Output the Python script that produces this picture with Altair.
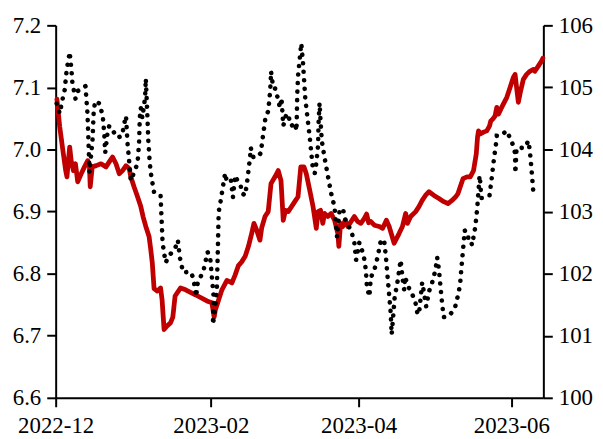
import altair as alt
import pandas as pd

BASE = "2022-12-01"

# USD/CNY (left axis): (days since 2022-12-01, rate)
usdcny = [
    (0.5, 7.081), (1.6, 7.037), (2.9, 6.998), (4.0, 6.966), (4.5, 6.956), (5.6, 7.004),
    (6.2, 6.982), (7.1, 6.966), (7.9, 6.977), (8.8, 6.948), (10.2, 6.961), (11.5, 6.972),
    (12.8, 6.982), (13.5, 6.972), (13.8, 6.940), (14.6, 6.972), (16.2, 6.974), (18.1, 6.977),
    (20.1, 6.972), (21.4, 6.980), (22.7, 6.988), (24.1, 6.977), (25.4, 6.961), (26.7, 6.966),
    (28.1, 6.974), (29.4, 6.969), (30.0, 6.956), (31.3, 6.940), (32.7, 6.924), (34.0, 6.908),
    (34.9, 6.892), (36.0, 6.876), (37.3, 6.860), (38.0, 6.838), (38.6, 6.817), (39.3, 6.776),
    (40.6, 6.772), (41.9, 6.777), (42.5, 6.758), (43.3, 6.710), (44.6, 6.716), (45.9, 6.721),
    (46.8, 6.730), (47.7, 6.764), (49.9, 6.777), (51.9, 6.774), (55.8, 6.766), (60.4, 6.756),
    (62.4, 6.753), (63.3, 6.730), (63.8, 6.742), (64.4, 6.749), (65.1, 6.758), (66.4, 6.774),
    (68.4, 6.789), (70.4, 6.785), (71.7, 6.798), (73.0, 6.813), (74.3, 6.819), (75.7, 6.828),
    (77.0, 6.844), (78.3, 6.865), (79.2, 6.881), (80.3, 6.870), (81.6, 6.854), (82.3, 6.874),
    (83.6, 6.892), (84.9, 6.900), (86.0, 6.945), (87.6, 6.956), (88.9, 6.966), (90.0, 6.950),
    (90.9, 6.886), (91.8, 6.902), (92.9, 6.900), (94.2, 6.908), (95.5, 6.916), (96.8, 6.924),
    (97.9, 6.972), (99.2, 6.972), (100.1, 6.961), (101.5, 6.934), (102.8, 6.908), (104.1, 6.873),
    (104.8, 6.900), (105.8, 6.902), (106.7, 6.881), (107.4, 6.897), (108.7, 6.892), (110.0, 6.897),
    (111.4, 6.886), (112.7, 6.865), (113.1, 6.844), (113.8, 6.881), (114.7, 6.876), (115.6, 6.886),
    (116.7, 6.876), (118.0, 6.884), (119.3, 6.892), (120.6, 6.884), (121.9, 6.881), (123.3, 6.889),
    (124.2, 6.896), (125.0, 6.882), (125.9, 6.884), (127.3, 6.878), (129.2, 6.876), (130.6, 6.873),
    (132.1, 6.886), (133.2, 6.876), (135.2, 6.849), (137.2, 6.865), (138.5, 6.876), (139.8, 6.897),
    (140.5, 6.881), (141.8, 6.892), (143.8, 6.900), (145.1, 6.908), (146.4, 6.918), (147.7, 6.926),
    (149.1, 6.932), (151.1, 6.926), (153.1, 6.921), (155.0, 6.916), (156.7, 6.913), (158.3, 6.918),
    (159.6, 6.923), (160.7, 6.929), (161.6, 6.940), (162.7, 6.953), (164.3, 6.956), (165.6, 6.956),
    (166.9, 6.966), (168.0, 6.993), (168.5, 7.020), (168.9, 7.030), (169.6, 7.025), (170.9, 7.028),
    (172.2, 7.030), (173.3, 7.038), (173.8, 7.046), (174.6, 7.049), (175.5, 7.054), (176.2, 7.068),
    (176.9, 7.057), (177.8, 7.065), (178.8, 7.073), (180.2, 7.084), (181.5, 7.100), (182.8, 7.116),
    (183.5, 7.121), (184.1, 7.100), (184.8, 7.076), (185.7, 7.094), (186.8, 7.113), (188.1, 7.121),
    (189.4, 7.126), (190.8, 7.129), (191.4, 7.126), (192.7, 7.134), (194.0, 7.142), (194.6, 7.147),
]

# Dollar index (right axis): (days since 2022-12-01, index)
dxy = [
    (0.4, 104.74), (1.6, 104.58), (2.8, 104.82), (3.6, 104.96), (4.4, 105.28), (5.6, 105.57),
    (6.3, 105.28), (6.7, 105.06), (7.5, 104.91), (7.9, 104.82), (8.7, 104.94), (11.9, 105.02),
    (12.7, 104.58), (13.1, 104.14), (13.5, 103.63), (14.7, 104.14), (15.2, 104.62), (15.8, 104.78),
    (17.5, 104.74), (18.8, 104.54), (19.4, 104.26), (19.8, 103.95), (20.8, 104.30), (21.4, 104.38),
    (22.2, 104.34), (24.7, 104.19), (26.5, 104.22), (27.8, 104.50), (28.1, 104.54), (28.7, 104.10),
    (29.4, 103.79), (30.0, 103.50), (31.3, 103.63), (32.7, 103.78), (33.3, 104.10), (33.6, 104.51),
    (34.0, 104.67), (34.6, 104.51), (35.7, 104.83), (36.0, 105.14), (36.6, 104.58), (37.0, 104.14),
    (37.6, 103.78), (38.0, 103.62), (39.3, 103.31), (40.6, 103.28), (41.9, 103.26), (42.2, 102.98),
    (42.7, 102.50), (43.9, 102.18), (45.6, 102.30), (47.9, 102.43), (48.8, 102.54), (49.6, 102.26),
    (50.9, 102.02), (53.8, 102.03), (54.9, 101.94), (56.2, 101.63), (56.5, 101.82), (57.8, 101.94),
    (59.1, 102.06), (60.7, 102.35), (61.8, 102.22), (62.4, 101.94), (63.1, 101.63), (62.8, 101.18),
    (63.8, 101.47), (64.4, 101.79), (64.8, 102.43), (65.1, 102.99), (65.8, 103.15), (66.4, 103.30),
    (67.7, 103.62), (68.4, 103.47), (70.0, 103.50), (70.8, 103.23), (71.7, 103.58), (73.0, 103.46),
    (73.9, 103.42), (74.3, 103.30), (75.7, 103.26), (76.7, 103.55), (77.7, 103.90), (77.9, 104.03),
    (79.0, 103.87), (81.0, 103.90), (81.9, 103.94), (82.7, 104.19), (83.8, 104.51), (84.9, 104.62),
    (85.6, 104.91), (85.9, 105.10), (86.0, 105.26), (86.9, 104.99), (87.8, 104.98), (89.6, 104.67),
    (90.2, 104.83), (90.9, 104.38), (92.2, 104.58), (92.9, 104.54), (94.2, 104.38), (95.5, 104.43),
    (96.2, 104.30), (96.5, 104.90), (96.8, 105.18), (98.1, 105.71), (98.8, 105.39), (99.7, 104.82),
    (101.5, 104.19), (102.8, 103.66), (103.5, 103.62), (104.1, 103.78), (104.8, 104.06), (105.0, 104.43),
    (105.4, 104.75), (105.8, 104.46), (106.3, 104.14), (107.4, 103.87), (108.7, 103.58), (110.0, 103.30),
    (111.4, 103.07), (112.0, 102.75), (112.4, 102.59), (113.4, 103.02), (114.7, 103.05), (116.0, 102.83),
    (118.0, 102.70), (119.3, 102.50), (120.0, 102.22), (121.3, 102.50), (123.0, 102.30), (123.9, 102.06),
    (124.3, 101.79), (125.3, 101.63), (125.9, 101.94), (127.3, 102.06), (128.6, 102.27), (129.9, 102.54),
    (131.2, 102.54), (131.9, 102.27), (132.5, 101.98), (133.2, 101.66), (133.8, 101.38), (134.2, 101.02),
    (134.8, 101.31), (135.4, 101.62), (136.5, 101.86), (137.8, 102.22), (138.5, 101.94), (139.2, 101.74),
    (139.6, 101.95), (140.5, 101.82), (141.8, 101.71), (143.5, 101.58), (144.4, 101.38), (145.1, 101.34),
    (145.8, 101.62), (146.4, 101.86), (147.1, 101.70), (148.0, 101.47), (149.1, 101.71), (150.4, 101.86),
    (151.7, 102.06), (152.4, 102.26), (153.1, 102.06), (153.7, 101.79), (154.4, 101.50), (155.0, 101.30),
    (156.7, 101.31), (158.6, 101.39), (159.6, 101.47), (161.0, 101.70), (161.6, 101.86), (162.0, 102.06),
    (162.7, 102.38), (163.4, 102.70), (164.3, 102.58), (165.6, 102.58), (166.3, 102.46), (166.9, 102.59),
    (167.6, 102.75), (168.3, 103.02), (168.9, 103.34), (169.3, 103.58), (169.6, 103.47), (170.0, 103.22),
    (170.6, 103.22), (173.3, 103.26), (174.2, 103.55), (175.1, 103.86), (175.9, 104.10), (176.2, 104.22),
    (177.5, 104.22), (180.2, 104.30), (181.5, 104.18), (182.8, 104.06), (183.5, 103.94), (183.6, 103.62),
    (184.1, 104.02), (187.4, 104.03), (188.8, 104.14), (189.4, 103.98), (190.0, 103.71), (190.8, 103.31),
]

left_ticks = [6.6, 6.7, 6.8, 6.9, 7.0, 7.1, 7.2]
right_ticks = [100, 101, 102, 103, 104, 105, 106]
x_ticks = [(2022, 12), (2023, 2), (2023, 4), (2023, 6)]


def frame(pairs):
    df = pd.DataFrame(pairs, columns=["day", "value"])
    df["date"] = pd.Timestamp(BASE) + pd.to_timedelta(df["day"], unit="D")
    df["i"] = range(len(df))
    return df[["date", "value", "i"]]


red_df = frame(usdcny)
black_df = frame(dxy)

FONT = "Liberation Serif"

x_enc = alt.X(
    "date:T",
    title=None,
    scale=alt.Scale(
        domain=[alt.DateTime(year=2022, month=12, date=1),
                alt.DateTime(year=2023, month=6, date=13, hours=19)],
        nice=False,
    ),
    axis=alt.Axis(
        values=[alt.DateTime(year=y, month=m, date=1) for y, m in x_ticks],
        format="%Y-%m",
        labelFlush=False,
        labelOverlap=False,
        labelPadding=8,
    ),
)

red = alt.Chart(red_df).mark_line(
    color="#C00000", strokeWidth=4.8, strokeJoin="round", strokeCap="round"
).encode(
    x=x_enc,
    y=alt.Y(
        "value:Q", title=None,
        scale=alt.Scale(domain=[6.6, 7.2], nice=False, zero=False),
        axis=alt.Axis(values=left_ticks, format=".1f", orient="left"),
    ),
    order="i:Q",
)

black = alt.Chart(black_df).mark_line(
    color="black", strokeWidth=4.6, strokeCap="round", strokeDash=[0.1, 8.5]
).encode(
    x=x_enc,
    y=alt.Y(
        "value:Q", title=None,
        scale=alt.Scale(domain=[100, 106], nice=False, zero=False),
        axis=alt.Axis(values=right_ticks, format="d", orient="right"),
    ),
    order="i:Q",
)

chart = alt.layer(red, black).resolve_scale(y="independent").properties(
    width=491,
    height=375,
    autosize=alt.AutoSizeParams(type="none"),
    padding={"left": 48, "top": 16, "right": 52, "bottom": 40},
    background="white",
).configure_view(stroke=None).configure_axis(
    labelFont=FONT,
    labelFontSize=23,
    labelColor="black",
    domainColor="black",
    domainWidth=2,
    tickColor="black",
    tickWidth=2,
    tickSize=9,
    grid=False,
    labelPadding=6,
)

chart.save("out.html", embed_options={"renderer": "svg", "actions": False})
